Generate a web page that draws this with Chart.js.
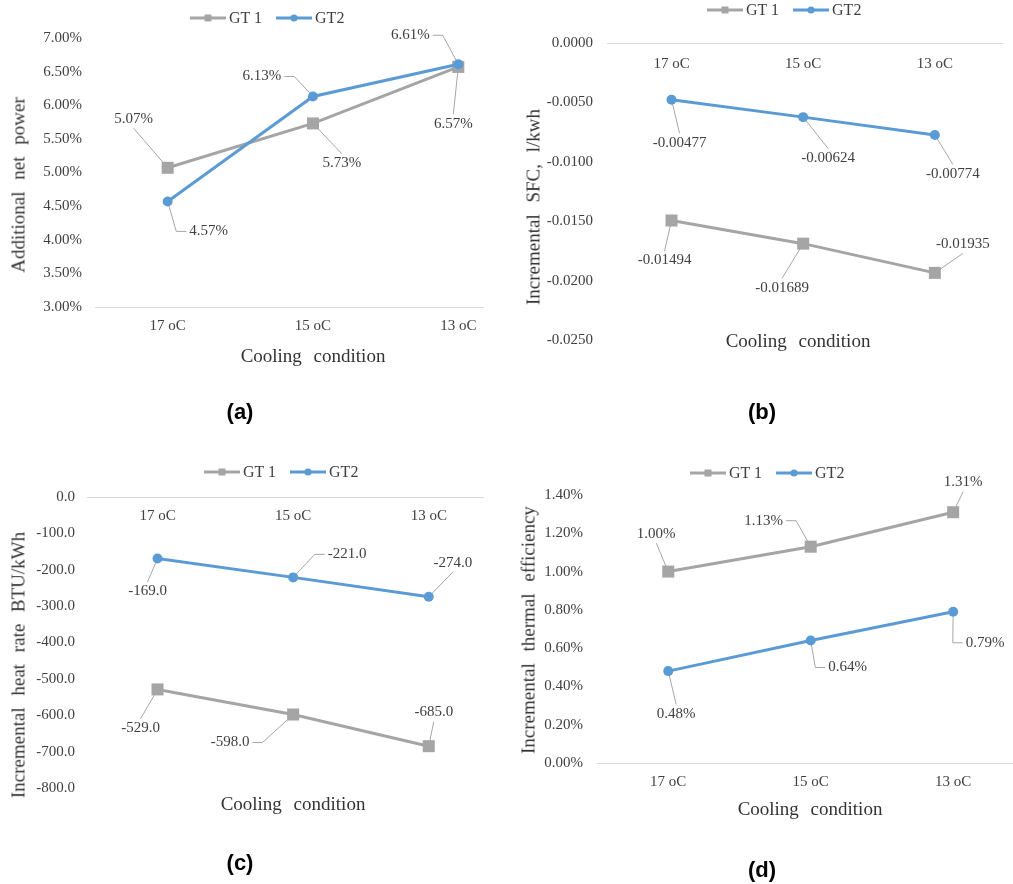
<!DOCTYPE html>
<html><head><meta charset="utf-8">
<script src="https://cdn.jsdelivr.net/npm/chart.js@4.4.0/dist/chart.umd.min.js"></script>
<style>
html,body{margin:0;padding:0;background:#fff;}
#wrap{position:relative;width:1013px;height:884px;overflow:hidden;background:#fff;}
canvas{position:absolute;}
.t{position:absolute;white-space:nowrap;font-family:"Liberation Serif","Times New Roman",serif;font-size:19px;word-spacing:7px;color:#333;transform:translate(-50%,-50%);line-height:1;}
.rot{transform:translate(-50%,-50%) rotate(-90deg);}
.pl{position:absolute;font-family:"Liberation Sans",Arial,sans-serif;font-weight:bold;font-size:22px;color:#000;transform:translate(-50%,-50%);line-height:1;}
.lg{position:absolute;display:flex;align-items:center;transform:translateY(-50%);font-family:"Liberation Serif",serif;font-size:16px;color:#404040;white-space:pre;line-height:1;}
.lg svg{display:block;margin-right:3px;}
.lg span{margin-right:14px;}
</style></head><body><div id="wrap"></div>
<script>
// ---- data ----
const categories = ['17 oC', '15 oC', '13 oC'];
const seriesNames = ['GT 1', 'GT2'];

const netPowerGT1 = [5.07, 5.73, 6.57];
const netPowerGT2 = [4.57, 6.13, 6.61];
const netPowerTicks = [3.0, 3.5, 4.0, 4.5, 5.0, 5.5, 6.0, 6.5, 7.0];

const sfcGT1 = [-0.01494, -0.01689, -0.01935];
const sfcGT2 = [-0.00477, -0.00624, -0.00774];
const sfcTicks = [0, -0.005, -0.010, -0.015, -0.020, -0.025];

const heatRateGT1 = [-529.0, -598.0, -685.0];
const heatRateGT2 = [-169.0, -221.0, -274.0];
const heatRateTicks = [0, -100, -200, -300, -400, -500, -600, -700, -800];

const effGT1 = [1.00, 1.13, 1.31];
const effGT2 = [0.48, 0.64, 0.79];
const effTicks = [0.0, 0.2, 0.4, 0.6, 0.8, 1.0, 1.2, 1.4];

const axisTitles = {
  a: ['Cooling condition', 'Additional net power'],
  b: ['Cooling condition', 'Incremental SFC, l/kwh'],
  c: ['Cooling condition', 'Incremental heat rate BTU/kWh'],
  d: ['Cooling condition', 'Incremental thermal efficiency']
};

// ---- styles ----
const GRAY = '#A5A5A5', BLUE = '#5B9BD5', TXT = '#404040';
const pct = v => v.toFixed(2) + '%';
const clean = v => (Math.abs(v) < 1e-12 ? 0 : v);

const panels = [
  { key:'a', left:0, top:0, w:500, h:440, pad:{left:0,top:38,right:17,bottom:103}, yW:95, xH:30, xPos:'bottom',
    xMin:-0.5, xMax:2.17, yPad:13, xPad:10, s1:netPowerGT1, s2:netPowerGT2, yTicks:netPowerTicks,
    yFmt:v=>pct(clean(v)), dFmt:pct,
    place:[[[-34,-49,'b'],[29,40,'t'],[-5,57,'t']],[[41,30,'l'],[-51,-20,'r'],[-48,-29,'r']]],
    xt:[313,355], yt:[18,185], lab:[240,412], lg:[190,18] },
  { key:'b', left:500, top:0, w:513, h:440, pad:{left:0,top:43,right:11,bottom:100}, yW:107, xH:null, xPos:{y:0},
    xMin:-0.49, xMax:2.51, yPad:14, xPad:12, s1:sfcGT1, s2:sfcGT2, yTicks:sfcTicks,
    yFmt:v=>clean(v).toFixed(4), dFmt:v=>String(v),
    place:[[[-7,40,'t'],[-21,44,'t'],[28,-29,'b']],[[8,43,'t'],[25,41,'t'],[18,39,'t']]],
    xt:[798,340], yt:[533,207], lab:[762,412], lg:[707,10] },
  { key:'c', left:0, top:440, w:500, h:444, pad:{left:0,top:57,right:17,bottom:96}, yW:87, xH:null, xPos:{y:0},
    xMin:-0.52, xMax:2.4, yPad:12, xPad:10, s1:heatRateGT1, s2:heatRateGT2, yTicks:heatRateTicks,
    yFmt:v=>clean(v).toFixed(1), dFmt:v=>v.toFixed(1),
    place:[[[-17,39,'t'],[-63,28,'r'],[5,-34,'b']],[[-10,33,'t'],[54,-23,'l'],[24,-34,'b']]],
    xt:[293,803], yt:[18,665], lab:[240,863], lg:[204,472] },
  { key:'d', left:500, top:440, w:528, h:444, pad:{left:0,top:55,right:15,bottom:91}, yW:97, xH:30, xPos:'bottom',
    xMin:-0.5, xMax:2.42, yPad:14, xPad:10, s1:effGT1, s2:effGT2, yTicks:effTicks,
    yFmt:v=>pct(clean(v)), dFmt:pct,
    place:[[[-12,-38,'b'],[-47,-26,'r'],[10,-30,'b']],[[8,43,'t'],[37,27,'l'],[32,31,'l']]],
    xt:[810,808], yt:[528,630], lab:[762,870], lg:[690,473] }
];

function labelPlugin(p) {
  const FONT = '15px "Liberation Serif", serif';
  function geom(chart, cb) {
    const ctx = chart.ctx;
    ctx.font = FONT;
    chart.data.datasets.forEach((ds, di) => {
      const meta = chart.getDatasetMeta(di);
      meta.data.forEach((pt, i) => {
        const pl = p.place[di][i];
        const text = p.dFmt(ds.data[i].y);
        const w = ctx.measureText(text).width, h = 15;
        cb(ctx, pt, pt.x + pl[0], pt.y + pl[1], w, h, pl[2], text);
      });
    });
  }
  return {
    id: 'leader_' + p.key,
    beforeDatasetsDraw(chart) {
      const ctx = chart.ctx;
      ctx.save();
      ctx.strokeStyle = '#A6A6A6';
      ctx.lineWidth = 1;
      geom(chart, (ctx, pt, cx, cy, w, h, anc) => {
        ctx.beginPath();
        if (anc === 't') { ctx.moveTo(cx, cy - h / 2 - 2); }
        else if (anc === 'b') { ctx.moveTo(cx, cy + h / 2 + 2); }
        else if (anc === 'l') { ctx.moveTo(cx - w / 2 - 3, cy); ctx.lineTo(cx - w / 2 - 13, cy); }
        else { ctx.moveTo(cx + w / 2 + 3, cy); ctx.lineTo(cx + w / 2 + 13, cy); }
        ctx.lineTo(pt.x, pt.y);
        ctx.stroke();
      });
      ctx.restore();
    },
    afterDatasetsDraw(chart) {
      const ctx = chart.ctx;
      ctx.save();
      ctx.fillStyle = TXT;
      ctx.textAlign = 'center';
      ctx.textBaseline = 'middle';
      geom(chart, (ctx, pt, cx, cy, w, h, anc, text) => { ctx.fillText(text, cx, cy); });
      ctx.restore();
    }
  };
}

const wrap = document.getElementById('wrap');
function addDiv(cls, text, x, y) {
  const d = document.createElement('div');
  d.className = cls; d.textContent = text;
  d.style.left = x + 'px'; d.style.top = y + 'px';
  wrap.appendChild(d); return d;
}
function legendIcon(color, shape) {
  const m = shape === 'rect'
    ? `<rect x="14.5" y="2.5" width="7" height="7" fill="${color}"/>`
    : `<circle cx="18" cy="6" r="3.6" fill="${color}"/>`;
  return `<svg width="36" height="12"><line x1="0" y1="6" x2="36" y2="6" stroke="${color}" stroke-width="3"/>${m}</svg>`;
}

panels.forEach(p => {
  const cv = document.createElement('canvas');
  cv.width = p.w; cv.height = p.h;
  cv.style.left = p.left + 'px'; cv.style.top = p.top + 'px';
  cv.style.width = p.w + 'px'; cv.style.height = p.h + 'px';
  wrap.appendChild(cv);
  const font = { family: 'Liberation Serif', size: 15 };
  new Chart(cv, {
    type: 'line',
    data: { datasets: [
      { label: seriesNames[0], data: p.s1.map((v, i) => ({ x: i, y: v })), borderColor: GRAY, backgroundColor: GRAY,
        borderWidth: 3, pointStyle: 'rect', pointRadius: 8.5, pointHoverRadius: 8.5, pointBorderWidth: 0, order: 1 },
      { label: seriesNames[1], data: p.s2.map((v, i) => ({ x: i, y: v })), borderColor: BLUE, backgroundColor: BLUE,
        borderWidth: 3, pointStyle: 'circle', pointRadius: 5, pointHoverRadius: 5, pointBorderWidth: 0, order: 0 }
    ]},
    options: {
      responsive: false, animation: false, devicePixelRatio: 1, events: [],
      layout: { padding: p.pad },
      plugins: { legend: { display: false }, tooltip: { enabled: false } },
      scales: {
        x: { type: 'linear', position: p.xPos, min: p.xMin, max: p.xMax,
          afterBuildTicks: s => { s.ticks = categories.map((c, i) => ({ value: i })); },
          afterFit: s => { if (p.xH != null) s.height = p.xH; },
          ticks: { callback: v => categories[v], font, color: TXT, padding: p.xPad, maxRotation: 0, autoSkip: false },
          grid: { display: false, drawTicks: false },
          border: { display: true, color: '#D9D9D9', width: 1 } },
        y: { type: 'linear', position: 'left', min: Math.min(...p.yTicks), max: Math.max(...p.yTicks),
          afterBuildTicks: s => { s.ticks = p.yTicks.map(v => ({ value: v })); },
          afterFit: s => { s.width = p.yW; },
          ticks: { callback: p.yFmt, font, color: TXT, padding: p.yPad, autoSkip: false },
          grid: { display: false, drawTicks: false },
          border: { display: false } }
      }
    },
    plugins: [labelPlugin(p)]
  });
  addDiv('t', axisTitles[p.key][0], p.xt[0], p.xt[1]);
  addDiv('t rot', axisTitles[p.key][1], p.yt[0], p.yt[1]);
  addDiv('pl', '(' + p.key + ')', p.lab[0], p.lab[1]);
  const lg = document.createElement('div');
  lg.className = 'lg';
  lg.style.left = p.lg[0] + 'px'; lg.style.top = p.lg[1] + 'px';
  lg.innerHTML = legendIcon(GRAY, 'rect') + '<span></span>' + legendIcon(BLUE, 'circle') + '<span></span>';
  const spans = lg.querySelectorAll('span');
  spans[0].textContent = seriesNames[0]; spans[1].textContent = seriesNames[1];
  wrap.appendChild(lg);
});
</script></body></html>
